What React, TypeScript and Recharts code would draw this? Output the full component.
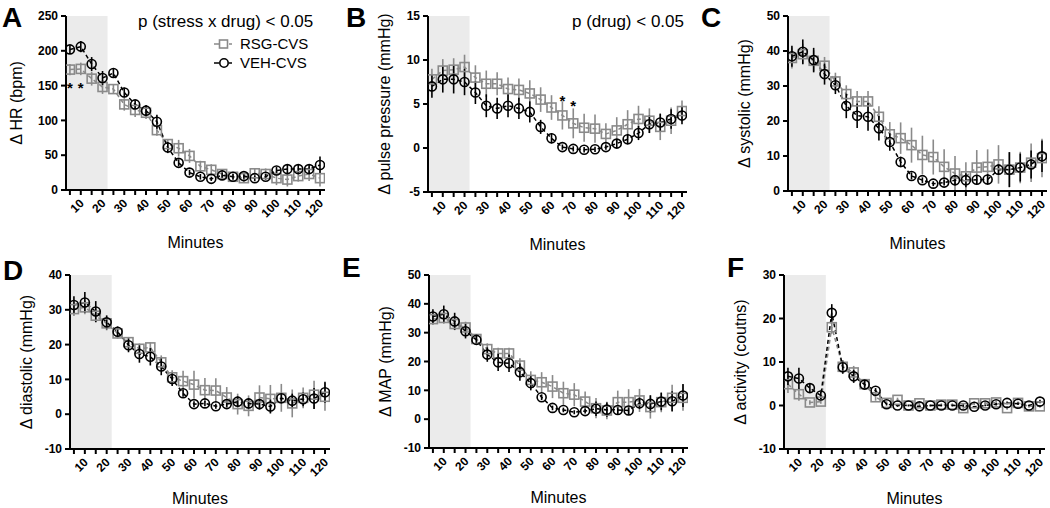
import React from "react";
import { ComposedChart, Line, XAxis, YAxis, ErrorBar, ReferenceArea, Scatter } from "recharts";

const minutes = [5, 10, 15, 20, 25, 30, 35, 40, 45, 50, 55, 60, 65, 70, 75, 80, 85, 90, 95, 100, 105, 110, 115, 120];
const xTickLabels = [10, 20, 30, 40, 50, 60, 70, 80, 90, 100, 110, 120];

// A: heart rate
const hrVeh = [202, 206, 181, 161, 168, 140, 123, 114, 98, 61, 39, 25, 19, 16, 21, 19, 20, 17, 19, 28, 30, 30, 30, 36];
const hrVehErr = [6, 8, 10, 10, 6, 7, 6, 8, 10, 8, 5, 4, 4, 3, 4, 4, 4, 4, 4, 5, 6, 6, 7, 12];
const hrRsg = [173, 174, 160, 148, 145, 123, 115, 111, 86, 66, 60, 49, 34, 29, 23, 19, 17, 24, 23, 17, 15, 20, 23, 17];
const hrRsgErr = [8, 9, 10, 10, 6, 9, 10, 9, 8, 7, 12, 10, 8, 8, 6, 5, 6, 7, 8, 10, 10, 8, 10, 12];

// B: pulse pressure
const ppVeh = [7.0, 7.8, 7.8, 7.5, 6.3, 4.8, 4.5, 4.8, 4.5, 4.1, 2.4, 1.1, 0.1, -0.1, -0.2, -0.15, 0.1, 0.5, 1.0, 1.7, 2.7, 2.9, 3.3, 3.7];
const ppVehErr = [1.3, 1.5, 1.6, 1.5, 1.3, 1.3, 1.2, 1.3, 1.2, 1.2, 0.8, 0.6, 0.3, 0.3, 0.3, 0.3, 0.3, 0.5, 0.6, 0.8, 1.0, 1.0, 1.1, 1.0];
const ppRsg = [7.8, 8.8, 8.9, 9.2, 8.0, 7.3, 7.3, 6.7, 6.6, 6.2, 5.5, 4.6, 3.7, 2.8, 2.3, 2.2, 1.6, 2.0, 2.7, 3.3, 3.1, 2.4, 3.1, 4.2];
const ppRsgErr = [1.2, 1.3, 1.3, 1.4, 1.4, 1.5, 1.3, 1.3, 1.3, 1.5, 1.4, 1.4, 1.6, 1.7, 1.6, 1.6, 1.2, 1.5, 1.6, 1.5, 1.4, 1.5, 1.5, 1.2];

// C: systolic
const sysVeh = [38.5, 39.8, 37.4, 33.4, 30.2, 24.3, 21.5, 21.2, 17.9, 14.0, 8.3, 4.3, 3.1, 2.1, 2.4, 3.1, 3.1, 3.2, 3.3, 6.1, 6.1, 6.7, 7.6, 9.9];
const sysVehErr = [3, 3.5, 3.5, 3, 2.5, 3.5, 3.5, 4, 3.5, 2.5, 1.5, 1, 0.8, 0.7, 0.8, 1.5, 2, 1.2, 1.5, 1.5, 5, 4, 4, 4.5];
const sysRsg = [38.0, 39.1, 37.2, 35.8, 31.3, 27.7, 25.6, 25.6, 21.2, 16.2, 15.1, 13.1, 10.3, 9.7, 6.9, 5.0, 4.2, 6.7, 6.9, 7.6, 6.1, 6.7, 8.1, 9.4];
const sysRsgErr = [3, 3, 3, 2.5, 2.5, 2.5, 3, 3, 3, 3.5, 4.5, 5, 5.5, 5, 5, 5, 4, 5, 5, 5.5, 5, 4.5, 5.5, 5.5];

// D: diastolic
const diaVeh = [31.4, 32.1, 29.5, 26.4, 23.7, 19.8, 17.3, 16.5, 13.7, 10.1, 6.0, 2.9, 3.1, 2.3, 2.9, 3.6, 3.1, 2.9, 2.2, 4.6, 3.9, 4.3, 4.5, 6.3];
const diaVehErr = [2.5, 3, 3, 2, 1.5, 2, 2.5, 2.5, 2.5, 2, 1, 0.8, 0.8, 0.7, 0.8, 1.5, 1.5, 1.5, 2, 1.5, 2, 2, 3, 3];
const diaRsg = [30.2, 30.7, 28.3, 26.1, 23.2, 20.7, 18.8, 19.2, 14.9, 10.6, 9.5, 8.5, 6.9, 6.8, 4.8, 2.9, 2.4, 4.8, 4.4, 4.7, 3.1, 4.7, 5.6, 5.0];
const diaRsgErr = [2, 2, 2, 2, 1.5, 1.5, 1.5, 1.5, 2, 2, 3, 4, 3.5, 3.5, 3, 3, 3, 3.5, 4, 4, 4, 3, 4, 4];

// E: MAP
const mapVeh = [35.6, 36.4, 33.9, 30.5, 27.5, 22.4, 19.7, 19.4, 16.3, 12.5, 7.6, 3.9, 3.2, 2.4, 2.8, 3.6, 3.3, 3.2, 3.0, 5.5, 5.3, 6.1, 6.2, 8.2];
const mapVehErr = [2.5, 3, 3, 2.5, 1.5, 2.5, 3, 3, 3, 2.5, 1, 0.8, 0.8, 0.7, 0.8, 2.5, 2.5, 1.5, 1.5, 2, 3, 3, 3.5, 4];
const mapRsg = [34.7, 35.1, 33.0, 31.8, 27.8, 24.3, 22.8, 22.8, 18.6, 13.6, 12.8, 11.3, 9.0, 8.5, 6.1, 3.8, 3.0, 5.9, 5.9, 6.5, 4.2, 5.9, 7.4, 7.4];
const mapRsgErr = [2, 2, 2, 2, 1.5, 2, 2, 2, 2.5, 3, 3.5, 4, 4, 4, 3.5, 3.5, 3, 4, 4.5, 4, 4, 3.5, 4.5, 4.5];

// F: activity
const actVeh = [6.7, 6.2, 4.0, 2.3, 21.3, 8.8, 6.7, 4.8, 3.4, 0.3, 0, 0, -0.2, 0, 0, 0, 0, -0.3, 0, 0.3, 0.6, 0.4, 0, 0.9];
const actVehErr = [2, 2.5, 1, 0.8, 2, 1.5, 1.5, 1, 0.6, 0.3, 0.3, 0.2, 0.2, 0.2, 0.2, 0.2, 0.3, 0.2, 0.2, 0.3, 0.3, 0.3, 0.2, 0.4];
const actRsg = [4.9, 2.6, 0.7, 0.9, 18.0, 8.9, 7.6, 4.9, 1.9, 0.6, 1.3, 0, 0.5, 0, 0.2, 0.2, -0.6, 0.5, 0.5, 0.7, -0.6, 0.6, -0.2, -0.2];
const actRsgErr = [2, 1.5, 0.5, 0.5, 1.5, 1.5, 1.5, 0.8, 0.8, 0.4, 0.5, 0.2, 0.4, 0.2, 0.3, 0.3, 0.4, 0.4, 0.4, 0.4, 0.4, 0.3, 0.3, 0.3];

// significance marks
const hrStars = [{ min: 5, y: 153 }, { min: 10, y: 153 }];
const ppStars = [{ min: 65, y: 5.8 }, { min: 70, y: 5.2 }];

const FONT = "'Liberation Sans', Arial, sans-serif";
const GRAY = "#8a8a8a";
const X_DOMAIN: [number, number] = [3.2, 122.3];
const SHADE_END = 22.3;

const buildRows = (veh: number[], vehErr: number[], rsg: number[], rsgErr: number[]) =>
  minutes.map((m, i) => ({ min: m, veh: veh[i], vehErr: vehErr[i], rsg: rsg[i], rsgErr: rsgErr[i] }));

const circleDot = (p: any) => {
  if (p.cx == null || p.cy == null) return <g key={p.key} />;
  return <circle key={p.key} cx={p.cx} cy={p.cy} r={4.5} fill="none" stroke="#000" strokeWidth={1.6} />;
};

const squareDot = (p: any) => {
  if (p.cx == null || p.cy == null) return <g key={p.key} />;
  return <rect key={p.key} x={p.cx - 4.5} y={p.cy - 4.5} width={9} height={9} fill="none" stroke={GRAY} strokeWidth={1.6} />;
};

const starShape = (p: any) => (
  <text x={p.cx} y={p.cy + 9} textAnchor="middle" fontSize={15} fontWeight="bold" fontFamily={FONT} fill="#000">*</text>
);

const MinuteTick = (p: any) => {
  const v = p.payload.value;
  if (!xTickLabels.includes(v)) return <g />;
  const ax = p.x + 4;
  const ay = p.y + 9;
  return (
    <text x={ax} y={ay} textAnchor="end" transform={`rotate(-45 ${ax} ${ay})`} fontSize={12} fontWeight="bold" fontFamily={FONT} fill="#000">
      {v}
    </text>
  );
};

type PanelProps = {
  cellX: number;
  cellY: number;
  plot: { l: number; t: number; r: number; b: number };
  yDomain: [number, number];
  yTicks: number[];
  rows: any[];
  stars?: { min: number; y: number }[];
};

function Panel({ cellX, cellY, plot, yDomain, yTicks, rows, stars }: PanelProps) {
  const W = 350;
  const H = 254;
  return (
    <div style={{ position: "absolute", left: cellX, top: cellY, width: W, height: H }}>
      <ComposedChart
        width={W}
        height={H}
        data={rows}
        margin={{ top: plot.t - cellY, right: cellX + W - plot.r, left: 0, bottom: 0 }}
      >
        <XAxis
          dataKey="min"
          type="number"
          domain={X_DOMAIN}
          ticks={minutes}
          interval={0}
          allowDataOverflow
          height={H - (plot.b - cellY)}
          tickSize={5}
          tickMargin={0}
          axisLine={{ stroke: "#000", strokeWidth: 2 }}
          tickLine={{ stroke: "#000", strokeWidth: 2 }}
          tick={<MinuteTick />}
        />
        <YAxis
          type="number"
          domain={yDomain}
          ticks={yTicks}
          interval={0}
          allowDataOverflow
          width={plot.l - cellX}
          tickSize={5}
          tickMargin={3}
          axisLine={{ stroke: "#000", strokeWidth: 2 }}
          tickLine={{ stroke: "#000", strokeWidth: 2 }}
          tick={{ fontSize: 12, fontWeight: "bold", fill: "#000", fontFamily: FONT }}
        />
        <ReferenceArea x1={X_DOMAIN[0]} x2={SHADE_END} fill="#ebebeb" fillOpacity={1} stroke="none" ifOverflow="hidden" />
        <Line
          dataKey="rsg"
          type="linear"
          stroke={GRAY}
          strokeWidth={1.5}
          strokeDasharray="4 3"
          dot={squareDot}
          activeDot={false}
          isAnimationActive={false}
        >
          <ErrorBar dataKey="rsgErr" width={0} stroke={GRAY} strokeWidth={1.6} direction="y" />
        </Line>
        <Line
          dataKey="veh"
          type="linear"
          stroke="#000"
          strokeWidth={1.5}
          strokeDasharray="4 3"
          dot={circleDot}
          activeDot={false}
          isAnimationActive={false}
        >
          <ErrorBar dataKey="vehErr" width={0} stroke="#000" strokeWidth={1.6} direction="y" />
        </Line>
        {stars && <Scatter data={stars} dataKey="y" shape={starShape} isAnimationActive={false} />}
      </ComposedChart>
    </div>
  );
}

const panels = [
  { letter: "A", lx: 2, ly: 27, cellX: 0, cellY: 0, plot: { l: 66, t: 16, r: 325, b: 190 }, yDomain: [0, 250] as [number, number], yTicks: [0, 50, 100, 150, 200, 250], title: "Δ HR (bpm)", tOff: 44, rows: buildRows(hrVeh, hrVehErr, hrRsg, hrRsgErr), stars: hrStars },
  { letter: "B", lx: 346, ly: 27, cellX: 350, cellY: 0, plot: { l: 428, t: 16, r: 687, b: 192 }, yDomain: [-5, 15] as [number, number], yTicks: [-5, 0, 5, 10, 15], title: "Δ pulse pressure (mmHg)", tOff: 38, rows: buildRows(ppVeh, ppVehErr, ppRsg, ppRsgErr), stars: ppStars },
  { letter: "C", lx: 701, ly: 27, cellX: 700, cellY: 0, plot: { l: 788, t: 16, r: 1047, b: 191 }, yDomain: [0, 50] as [number, number], yTicks: [0, 10, 20, 30, 40, 50], title: "Δ systolic (mmHg)", tOff: 38, rows: buildRows(sysVeh, sysVehErr, sysRsg, sysRsgErr) },
  { letter: "D", lx: 3, ly: 280, cellX: 0, cellY: 254, plot: { l: 70, t: 275, r: 330, b: 449 }, yDomain: [-10, 40] as [number, number], yTicks: [-10, 0, 10, 20, 30, 40], title: "Δ diastolic (mmHg)", tOff: 38, rows: buildRows(diaVeh, diaVehErr, diaRsg, diaRsgErr) },
  { letter: "E", lx: 342, ly: 277, cellX: 350, cellY: 254, plot: { l: 429, t: 275, r: 688, b: 448 }, yDomain: [-10, 50] as [number, number], yTicks: [-10, 0, 10, 20, 30, 40, 50], title: "Δ MAP (mmHg)", tOff: 38, rows: buildRows(mapVeh, mapVehErr, mapRsg, mapRsgErr) },
  { letter: "F", lx: 727, ly: 277, cellX: 700, cellY: 254, plot: { l: 784, t: 275, r: 1045, b: 449 }, yDomain: [-10, 30] as [number, number], yTicks: [-10, 0, 10, 20, 30], title: "Δ activity (coutns)", tOff: 38, rows: buildRows(actVeh, actVehErr, actRsg, actRsgErr) },
];

function LegendRow({ x, y, label, kind }: { x: number; y: number; label: string; kind: "sq" | "ci" }) {
  const col = kind === "sq" ? GRAY : "#000";
  return (
    <g>
      <line x1={x} y1={y} x2={x + 5} y2={y} stroke={col} strokeWidth={1.5} />
      <line x1={x + 15} y1={y} x2={x + 18} y2={y} stroke={col} strokeWidth={1.5} />
      {kind === "sq" ? (
        <rect x={x + 5.5} y={y - 4} width={8} height={8} fill="none" stroke={col} strokeWidth={1.6} />
      ) : (
        <circle cx={x + 10} cy={y} r={4.2} fill="none" stroke={col} strokeWidth={1.6} />
      )}
      <text x={x + 26} y={y + 5} fontSize={15} fontFamily={FONT} fill="#000">{label}</text>
    </g>
  );
}

export default function App() {
  return (
    <div style={{ position: "absolute", left: 0, top: 0, width: 1050, height: 508, background: "#fff", overflow: "hidden" }}>
      {panels.map((p) => (
        <Panel key={p.letter} cellX={p.cellX} cellY={p.cellY} plot={p.plot} yDomain={p.yDomain} yTicks={p.yTicks} rows={p.rows} stars={p.stars} />
      ))}
      <svg width={1050} height={508} style={{ position: "absolute", left: 0, top: 0, pointerEvents: "none" }}>
        {panels.map((p) => {
          const cy = (p.plot.t + p.plot.b) / 2;
          const tx = p.plot.l - p.tOff;
          return (
            <g key={p.letter}>
              <text x={p.lx} y={p.ly} fontSize={28} fontWeight="bold" fontFamily={FONT} fill="#000">{p.letter}</text>
              <text x={tx} y={cy} transform={`rotate(-90 ${tx} ${cy})`} textAnchor="middle" fontSize={16} fontFamily={FONT} fill="#000">{p.title}</text>
              <text x={(p.plot.l + p.plot.r) / 2} y={p.plot.b + (p.cellY === 0 ? 58 : 55)} textAnchor="middle" fontSize={16} fontFamily={FONT} fill="#000">Minutes</text>
            </g>
          );
        })}
        <text x={138} y={27} fontSize={17} fontFamily={FONT} fill="#000">p (stress x drug) &lt; 0.05</text>
        <LegendRow x={214} y={44} label="RSG-CVS" kind="sq" />
        <LegendRow x={214} y={63} label="VEH-CVS" kind="ci" />
        <text x={572} y={27} fontSize={17} fontFamily={FONT} fill="#000">p (drug) &lt; 0.05</text>
      </svg>
    </div>
  );
}
